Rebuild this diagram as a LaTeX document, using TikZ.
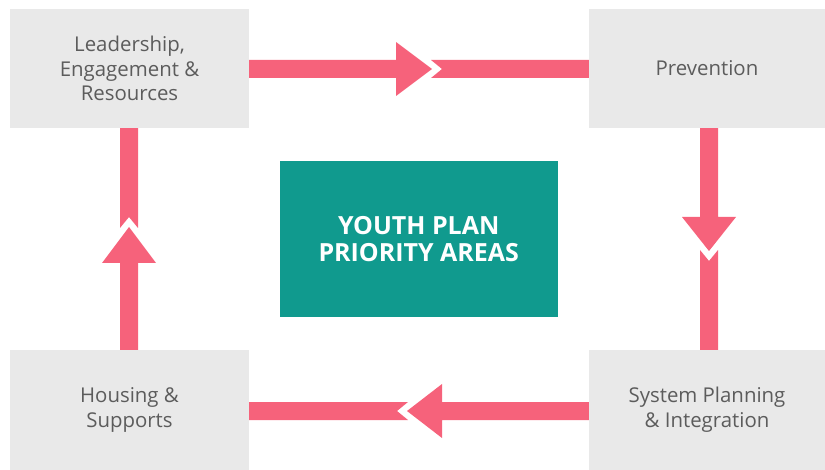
\documentclass[tikz,border=0pt]{standalone}
\usepackage{fontspec}
\setmainfont{Open Sans}
\usetikzlibrary{calc}
\definecolor{boxgray}{RGB}{233,233,233}
\definecolor{labelgray}{RGB}{92,92,92}
\definecolor{flowpink}{RGB}{246,98,123}
\definecolor{coreteal}{RGB}{16,154,142}
\begin{document}
\begin{tikzpicture}[x=1pt,y=-1pt,
  area/.style={fill=boxgray, text=labelgray, inner sep=0pt, align=center,
    minimum height=119pt, font=\fontsize{20.4}{24.8}\selectfont},
  core/.style={fill=coreteal, text=white, inner sep=0pt, align=center,
    minimum width=277.5pt, minimum height=156.5pt,
    font=\fontsize{25}{27.5}\selectfont\bfseries},
  flow/.style={fill=flowpink}]
\useasboundingbox (0,0) rectangle (825,470);

% priority areas around the centre
\node[area, minimum width=239pt] (lead) at (129.5,68.5) {Leadership,\\Engagement \&\\Resources};
\node[area, minimum width=236pt] (prev) at (707,68.5) {Prevention};
\node[area, minimum width=239pt, minimum height=120pt] (house) at (129.5,410) {Housing \&\\Supports};
\node[area, minimum width=236pt, minimum height=120pt] (sys) at (707,410) {System Planning\\\& Integration};
\node[core] (core) at (418.75,239.25) {YOUTH PLAN\\PRIORITY AREAS};

% top: leadership -> prevention
\fill[flow] ($(lead.east)+(0,-8.5)$) -- (396,60) -- (396,42) -- (432,69) -- (396,96)
  -- (396,78) -- ($(lead.east)+(0,9.5)$) -- cycle;
\fill[flow] (431,60) -- ($(prev.west)+(0,-8.5)$) -- ($(prev.west)+(0,9.5)$) -- (431,78)
  -- (442,69) -- cycle;

% right: prevention -> system planning
\fill[flow] ($(prev.south)+(-7,0)$) -- (700,217) -- (682,217) -- (709,251) -- (736,217)
  -- (718,217) -- ($(prev.south)+(11,0)$) -- cycle;
\fill[flow] (700,250) -- (709,261) -- (718,250) -- ($(sys.north)+(11,0)$)
  -- ($(sys.north)+(-7,0)$) -- cycle;

% bottom: system planning -> housing
\fill[flow] ($(sys.west)+(0,-8)$) -- (442,402) -- (442,384) -- (407,411) -- (442,438)
  -- (442,420) -- ($(sys.west)+(0,10)$) -- cycle;
\fill[flow] (408,402) -- ($(house.east)+(0,-8)$) -- ($(house.east)+(0,10)$) -- (408,420)
  -- (397,411) -- cycle;

% left: housing -> leadership
\fill[flow] ($(house.north)+(-9.5,0)$) -- (120,263) -- (102,263) -- (129,227) -- (156,263)
  -- (138,263) -- ($(house.north)+(8.5,0)$) -- cycle;
\fill[flow] ($(lead.south)+(-9.5,0)$) -- ($(lead.south)+(8.5,0)$) -- (138,228) -- (129,217)
  -- (120,228) -- cycle;
\end{tikzpicture}
\end{document}
